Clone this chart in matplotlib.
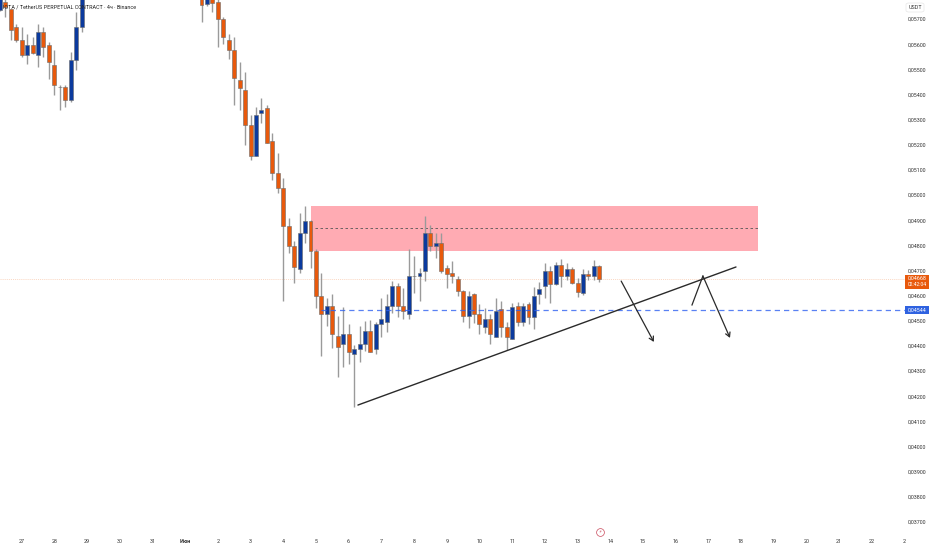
import matplotlib
matplotlib.use("Agg")
import matplotlib.pyplot as plt
from matplotlib.patches import Rectangle, FancyBboxPatch

plt.rcParams['font.family'] = ['Roboto', 'DejaVu Sans']

# Prices below are in units of 0.00001 USDT
bar_index = [-1, 0, 1, 2, 3, 4, 5, 6, 7, 8, 9, 10, 11, 12, 13, 14,
             36, 37, 38, 39, 40, 41, 42, 43, 44, 45, 46, 47, 48, 49, 50, 51, 52, 53, 54, 55, 56, 57, 58, 59,
             60, 61, 62, 63, 64, 65, 66, 67, 68, 69, 70, 71, 72, 73, 74, 75, 76, 77, 78, 79,
             80, 81, 82, 83, 84, 85, 86, 87, 88, 89, 90, 91, 92, 93, 94, 95, 96, 97, 98, 99,
             100, 101, 102, 103, 104, 105, 106, 107, 108, 109]
opens = [5736, 5766, 5739, 5668, 5616, 5557, 5598, 5557, 5648, 5598, 5517, 5428, 5430, 5378, 5537, 5668,
         5790, 5758, 5790, 5766, 5699, 5616, 5577, 5457, 5418, 5278, 5156, 5326, 5347, 5216, 5088, 5028, 4878, 4797, 4707, 4849, 4898, 4778, 4599, 4527,
         4558, 4440, 4408, 4448, 4368, 4387, 4408, 4458, 4387, 4487, 4496, 4558, 4638, 4558, 4527, 4677, 4677, 4698, 4848, 4797,
         4808, 4709, 4689, 4667, 4617, 4518, 4607, 4528, 4477, 4507, 4437, 4548, 4477, 4428, 4559, 4496, 4567, 4516, 4607, 4637,
         4698, 4646, 4721, 4678, 4706, 4649, 4612, 4686, 4678, 4718]
highs = [5790, 5785, 5739, 5680, 5668, 5640, 5628, 5680, 5668, 5609, 5577, 5438, 5438, 5569, 5728, 5800,
         5800, 5800, 5800, 5800, 5708, 5640, 5628, 5529, 5489, 5318, 5350, 5387, 5358, 5248, 5167, 5068, 4909, 4818, 4929, 4958, 4901, 4785, 4689, 4589,
         4607, 4519, 4556, 4487, 4404, 4479, 4499, 4503, 4496, 4591, 4607, 4659, 4651, 4630, 4785, 4758, 4710, 4917, 4881, 4849,
         4848, 4722, 4738, 4678, 4622, 4620, 4612, 4567, 4550, 4527, 4589, 4580, 4496, 4571, 4576, 4571, 4576, 4633, 4655, 4729,
         4719, 4735, 4746, 4729, 4715, 4669, 4705, 4702, 4742, 4721]
lows = [5730, 5709, 5616, 5610, 5549, 5521, 5561, 5509, 5549, 5461, 5398, 5338, 5350, 5370, 5497, 5648,
        5689, 5752, 5728, 5590, 5601, 5541, 5358, 5338, 5199, 5139, 5156, 5288, 5208, 5060, 5009, 4580, 4771, 4650, 4690, 4810, 4710, 4550, 4360, 4479,
        4391, 4278, 4318, 4328, 4158, 4337, 4381, 4377, 4368, 4437, 4457, 4530, 4516, 4506, 4507, 4611, 4579, 4659, 4778, 4750,
        4691, 4629, 4652, 4599, 4496, 4470, 4492, 4448, 4450, 4408, 4437, 4437, 4384, 4428, 4479, 4479, 4487, 4467, 4567, 4589,
        4570, 4642, 4636, 4662, 4646, 4593, 4603, 4662, 4662, 4656]
closes = [5785, 5749, 5656, 5616, 5557, 5598, 5566, 5648, 5589, 5529, 5438, 5428, 5378, 5537, 5668, 5800,
          5757, 5790, 5765, 5699, 5627, 5577, 5467, 5427, 5278, 5156, 5318, 5338, 5208, 5088, 5028, 4878, 4797, 4715, 4849, 4898, 4778, 4599, 4527, 4558,
          4448, 4397, 4448, 4377, 4388, 4408, 4458, 4377, 4487, 4507, 4558, 4638, 4558, 4538, 4678, 4677, 4689, 4848, 4797, 4808,
          4698, 4687, 4677, 4617, 4518, 4599, 4528, 4487, 4507, 4448, 4539, 4477, 4437, 4556, 4496, 4559, 4516, 4599, 4628, 4698,
          4646, 4722, 4678, 4705, 4650, 4613, 4686, 4678, 4718, 4665]

y_ticks = [3700, 3800, 3900, 4000, 4100, 4200, 4300, 4400, 4500, 4600, 4700, 4800, 4900, 5000,
           5100, 5200, 5300, 5400, 5500, 5600, 5700]
day_ticks = [3, 9, 15, 21, 27, 33, 39, 45, 51, 57, 63, 69, 75, 81, 87, 93, 99, 105, 111, 117, 123, 129, 135, 141, 147, 153, 159, 165]
day_labels = ['27', '28', '29', '30', '31', 'Июн', '2', '3', '4', '5', '6', '7', '8', '9', '10', '11', '12', '13',
              '14', '15', '16', '17', '18', '19', '20', '21', '22', '2']

zone_top, zone_bottom = 4957, 4779
zone_mid = 4868
zone_start, zone_end = 56.1, 138.1
last_price = 4668
level_price = 4544
level_start = 58
trend_x = [64.7, 134.07]
trend_y = [4165, 4714]
arrow1_x = [113.0, 119.0]
arrow1_y = [4658, 4416]
arrow2_x = [126.0, 128.0, 132.97]
arrow2_y = [4563, 4678, 4432]
event_x, event_y = 109.2, 3660

title = 'IOTA / TetherUS PERPETUAL CONTRACT · 4ч · Binance'
unit_label = 'USDT'
countdown = '02:42:04'

ORANGE = '#e8590c'
BLUE = '#0b3a9e'
FS = 3.9


def fmt(p):
    return f'{p / 100000:.5f}'.replace('.', ',')


fig = plt.figure(figsize=(9.32, 5.5), dpi=100, facecolor='white')
ax = fig.add_axes([0, 14 / 550, 905 / 932, 536 / 550])
ax.set_xlim(-0.9725, 165.08)
ax.set_ylim(3644.4, 5775.5)
for s in ax.spines.values():
    s.set_visible(False)

# zone and levels
ax.add_patch(Rectangle((zone_start, zone_bottom), zone_end - zone_start, zone_top - zone_bottom,
                       fc='#ffabb3', ec='none', zorder=1))
ax.plot([zone_start + 0.7, zone_end], [zone_mid, zone_mid], color='#555555', lw=0.6,
        ls=(0, (3, 3)), zorder=2)
ax.axhline(last_price, color='#f9c9ad', lw=0.5, ls=(0, (1.5, 1.5)), zorder=1)

# candles
colors = [BLUE if c > o else ORANGE for o, c in zip(opens, closes)]
ax.vlines(bar_index, lows, highs, color='#9a9a9a', lw=1.0, zorder=3)
bottoms = [min(o, c) for o, c in zip(opens, closes)]
heights = [max(abs(c - o), 3) for o, c in zip(opens, closes)]
ax.bar(bar_index, heights, bottom=bottoms, width=0.72, color=colors, edgecolor='#6b6b6b', lw=0.4, zorder=4)

ax.plot([level_start, 165.08], [level_price, level_price], color='#2f62f0', lw=0.9, alpha=0.8,
        ls=(0, (4.2, 3.2)), zorder=5)

# drawings
LINE = '#2a2a2a'
ax.plot(trend_x, trend_y, color=LINE, lw=1.0, zorder=6, solid_capstyle='round')
ax.annotate('', xy=(arrow1_x[1], arrow1_y[1]), xytext=(arrow1_x[0], arrow1_y[0]),
            arrowprops=dict(arrowstyle='->,head_length=0.3,head_width=0.17', color=LINE, lw=0.9,
                            shrinkA=0, shrinkB=0), zorder=6)
ax.plot(arrow2_x[:2], arrow2_y[:2], color=LINE, lw=0.9, zorder=6)
ax.annotate('', xy=(arrow2_x[2], arrow2_y[2]), xytext=(arrow2_x[1], arrow2_y[1]),
            arrowprops=dict(arrowstyle='->,head_length=0.3,head_width=0.17', color=LINE, lw=0.9,
                            shrinkA=0, shrinkB=0), zorder=6)

# axes ticks
ax.yaxis.tick_right()
ax.set_yticks(y_ticks)
ax.set_yticklabels([fmt(v) for v in y_ticks])
ax.set_xticks(day_ticks)
ax.set_xticklabels(day_labels)
ax.tick_params(axis='both', length=0, labelsize=FS, labelcolor='#333333')
ax.tick_params(axis='y', pad=2.2)
ax.tick_params(axis='x', pad=2.5)
ax.get_xticklabels()[day_labels.index('Июн')].set_fontweight('bold')

# title
ax.text(3 / 905, 1 - 7 / 536, title, transform=ax.transAxes, fontsize=3.85, color='#222222',
        va='center', ha='left', zorder=8)

# price tags
trans = ax.get_yaxis_transform()
ax.add_patch(Rectangle((1.0, last_price - 41), 24 / 905, 55, transform=trans, fc=ORANGE, ec='none',
                       clip_on=False, zorder=7))
ax.text(1 + 12 / 905, last_price, fmt(last_price), transform=trans, fontsize=FS, color='white',
        ha='center', va='center', clip_on=False, zorder=8)
ax.text(1 + 12 / 905, last_price - 24, countdown, transform=trans, fontsize=FS - 0.3, color='white',
        ha='center', va='center', clip_on=False, zorder=8)
ax.add_patch(Rectangle((1.0, level_price - 16), 24 / 905, 32, transform=trans, fc='#2f62e0', ec='none',
                       clip_on=False, zorder=7))
ax.text(1 + 12 / 905, level_price, fmt(level_price), transform=trans, fontsize=FS, color='white',
        ha='center', va='center', clip_on=False, zorder=8)

# unit box
fig.add_artist(FancyBboxPatch((906 / 932, 1 - 12 / 550), 18 / 932, 9 / 550,
                              boxstyle='round,pad=0,rounding_size=0.003', transform=fig.transFigure,
                              fc='white', ec='#e6e6e6', lw=0.5))
fig.text(915 / 932, 1 - 7.5 / 550, unit_label, fontsize=FS, color='#333333', ha='center', va='center')

# event marker
ax.plot([event_x], [event_y], 'o', ms=5.6, mfc='white', mec='#c9485a', mew=0.5, zorder=6, clip_on=False)
ax.text(event_x, event_y, '\u26a1', fontsize=3.2, color='#c9485a', ha='center', va='center',
        family='DejaVu Sans', zorder=7, clip_on=False)

fig.savefig('out.png', dpi=100)
